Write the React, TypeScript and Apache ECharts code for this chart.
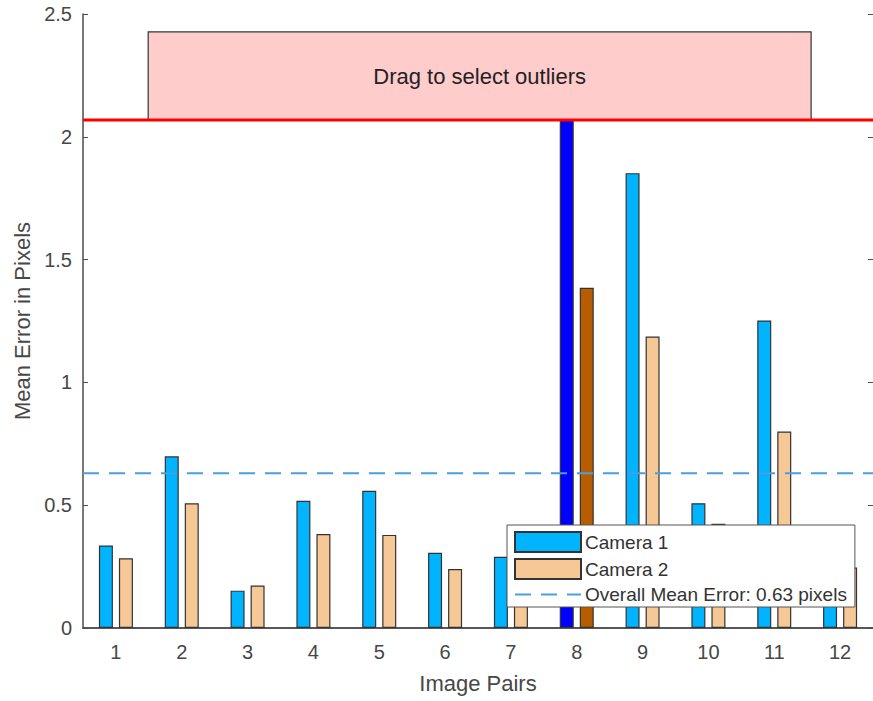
import React, { useEffect, useRef } from "react";
import * as echarts from "echarts";

const categories = ["1", "2", "3", "4", "5", "6", "7", "8", "9", "10", "11", "12"];
const camera1 = [0.336, 0.699, 0.152, 0.518, 0.559, 0.306, 0.29, 2.068, 1.852, 0.508, 1.252, 0.38];
const camera2 = [0.284, 0.508, 0.173, 0.383, 0.379, 0.24, 0.26, 1.385, 1.187, 0.424, 0.8, 0.246];
const outlierIndex = [7];
const meanError = 0.63;
const threshold = 2.068;
const dragBox = [1.49, 2.068, 11.56, 2.427];
const yTicks = [0, 0.5, 1, 1.5, 2, 2.5];

const FONT = "'Liberation Sans', Arial, sans-serif";

export default function App() {
  const ref = useRef<HTMLDivElement>(null);
  useEffect(() => {
    document.body.style.margin = "0";
    const chart = echarts.init(ref.current!, null, { renderer: "svg" });
    const axisColor = "#4d4d4d";
    const labelColor = "#474747";
    const c1 = camera1.map((v, i) =>
      outlierIndex.includes(i) ? { value: v, itemStyle: { color: "#0000ff" } } : v
    );
    const c2 = camera2.map((v, i) =>
      outlierIndex.includes(i) ? { value: v, itemStyle: { color: "#b85c00" } } : v
    );
    chart.setOption({
      animation: false,
      textStyle: { fontFamily: FONT },
      grid: { left: 83, right: -1, top: 14, bottom: 73, containLabel: false },
      xAxis: [
        {
          type: "category",
          data: categories,
          position: "bottom",
          name: "Image Pairs",
          nameLocation: "middle",
          nameGap: 44,
          nameTextStyle: { fontSize: 22, color: labelColor, fontFamily: FONT },
          axisLine: { lineStyle: { color: axisColor, width: 1.5 } },
          axisTick: { inside: true, alignWithLabel: true, length: 5, lineStyle: { color: axisColor } },
          axisLabel: { fontSize: 20, color: labelColor, margin: 14, fontFamily: FONT },
          splitLine: { show: false },
        },
        {
          type: "category",
          data: categories,
          position: "top",
          axisLine: { lineStyle: { color: axisColor, width: 1.5 } },
          axisTick: { inside: true, alignWithLabel: true, length: 5, lineStyle: { color: axisColor } },
          axisLabel: { show: false },
          splitLine: { show: false },
        },
        { type: "value", min: 0.5, max: 12.5, show: false },
      ],
      yAxis: [
        {
          type: "value",
          min: 0,
          max: 2.5,
          interval: 0.5,
          name: "Mean Error in Pixels",
          nameLocation: "middle",
          nameGap: 50,
          nameTextStyle: { fontSize: 22, color: labelColor, fontFamily: FONT },
          axisLine: { show: true, lineStyle: { color: axisColor, width: 1.5 } },
          axisTick: { show: true, inside: true, length: 5, lineStyle: { color: axisColor } },
          axisLabel: {
            fontSize: 20,
            color: labelColor,
            margin: 11,
            fontFamily: FONT,
            formatter: (v: number) => (yTicks.includes(v) ? String(v) : ""),
          },
          splitLine: { show: false },
        },
        {
          type: "value",
          min: 0,
          max: 2.5,
          interval: 0.5,
          position: "right",
          axisLine: { show: false },
          axisTick: { show: true, inside: true, length: 5, lineStyle: { color: axisColor } },
          axisLabel: { show: false },
          splitLine: { show: false },
        },
      ],
      legend: {
        orient: "vertical",
        left: 507,
        top: 525,
        padding: [6, 8, 3, 7],
        itemGap: 5,
        itemWidth: 66,
        itemHeight: 20,
        backgroundColor: "#ffffff",
        borderColor: "#555555",
        borderWidth: 1,
        textStyle: { fontSize: 19, color: "#333333", fontFamily: FONT, padding: [0, 0, 0, -1] },
        z: 20,
        data: [
          { name: "Camera 1", icon: "rect" },
          { name: "Camera 2", icon: "rect" },
          {
            name: "Overall Mean Error: 0.63 pixels",
            itemStyle: { color: "rgba(0,0,0,0)", borderWidth: 0 },
          },
        ],
      },
      series: [
        {
          name: "Camera 1",
          type: "bar",
          xAxisIndex: 0,
          yAxisIndex: 0,
          data: c1,
          barWidth: 14,
          barGap: "43%",
          itemStyle: { color: "#00b4ff", borderColor: "#333333", borderWidth: 1.2 },
          z: 2,
        },
        {
          name: "Camera 2",
          type: "bar",
          xAxisIndex: 0,
          yAxisIndex: 0,
          data: c2,
          barWidth: 14,
          barGap: "43%",
          itemStyle: { color: "#f5c896", borderColor: "#333333", borderWidth: 1.2 },
          z: 2,
        },
        {
          name: "threshold",
          type: "line",
          xAxisIndex: 2,
          yAxisIndex: 0,
          data: [
            [0.5, threshold],
            [12.5, threshold],
          ],
          symbol: "none",
          silent: true,
          lineStyle: { color: "#ff0000", width: 3 },
          z: 3,
        },
        {
          name: "dragbox",
          type: "line",
          xAxisIndex: 2,
          yAxisIndex: 0,
          data: [],
          silent: true,
          z: 4,
          markArea: {
            silent: true,
            itemStyle: { color: "#ffcccc", borderColor: "#333333", borderWidth: 1.2 },
            label: {
              show: true,
              position: "inside",
              fontSize: 22,
              color: "#222222",
              fontFamily: FONT,
            },
            data: [
              [
                { name: "Drag to select outliers", coord: [dragBox[0], dragBox[1]] },
                { coord: [dragBox[2], dragBox[3]] },
              ],
            ],
          },
        },
        {
          name: "Overall Mean Error: 0.63 pixels",
          type: "line",
          xAxisIndex: 2,
          yAxisIndex: 0,
          data: [
            [0.5, meanError],
            [12.5, meanError],
          ],
          symbol: "none",
          silent: true,
          itemStyle: { color: "#4a9fe0" },
          lineStyle: { color: "#4a9fe0", width: 2, type: [16, 10] },
          z: 5,
        },
      ],
    });
    return () => chart.dispose();
  }, []);
  return <div ref={ref} style={{ position: "absolute", left: 0, top: 0, width: 873, height: 701 }} />;
}
